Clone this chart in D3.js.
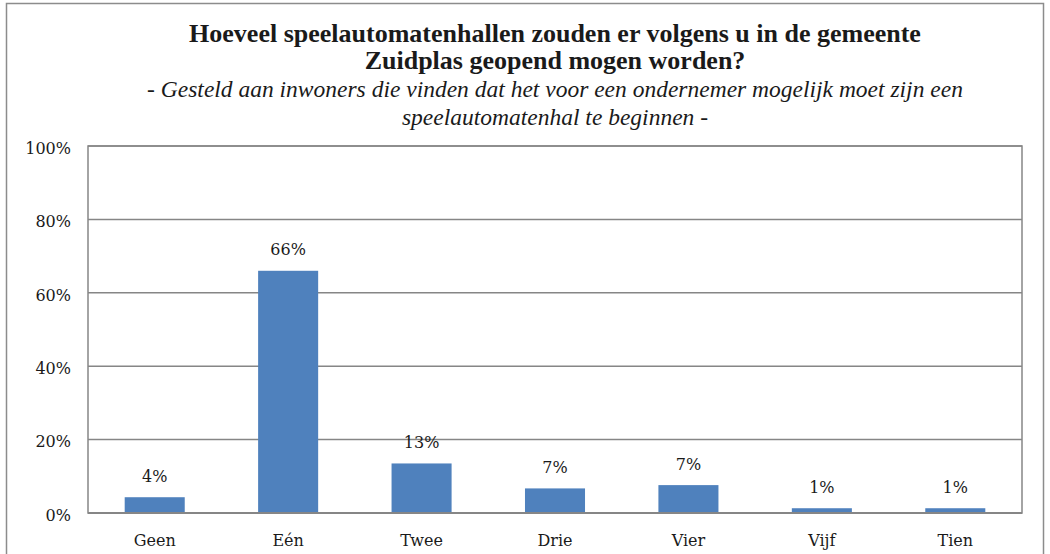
<!DOCTYPE html>
<html>
<head>
<meta charset="utf-8">
<script src="https://cdn.jsdelivr.net/npm/d3@7"></script>
<style>
  body { margin: 0; background: #fff; }
  svg text { font-family: "DejaVu Serif", "Liberation Serif", serif; fill: #1a1a1a; }
  svg text.title, svg text.subtitle { font-family: "Liberation Serif", serif; }
</style>
</head>
<body>
<svg class="chart" width="1050" height="554"></svg>
<script>
var categories = ["Geen", "Eén", "Twee", "Drie", "Vier", "Vijf", "Tien"];
var values = [4.3, 66.0, 13.5, 6.7, 7.6, 1.3, 1.3];
var value_labels = ["4%", "66%", "13%", "7%", "7%", "1%", "1%"];
var y_ticks = [0, 20, 40, 60, 80, 100];
var title_lines = ["Hoeveel speelautomatenhallen zouden er volgens u in de gemeente",
                   "Zuidplas geopend mogen worden?"];
var subtitle_lines = ["- Gesteld aan inwoners die vinden dat het voor een ondernemer mogelijk moet zijn een",
                      "speelautomatenhal te beginnen -"];

var margin = {top: 146, right: 28, bottom: 41, left: 88},
    width = 1050 - margin.left - margin.right,
    height = 554 - margin.top - margin.bottom;

var svg = d3.select(".chart");

// outer frame
svg.append("rect")
    .attr("x", 6.5).attr("y", 3.5)
    .attr("width", 1037).attr("height", 570)
    .attr("fill", "none")
    .attr("stroke", "#8c8c8c")
    .attr("stroke-width", 1.5);

var x = d3.scaleBand()
    .domain(categories)
    .range([0, width])
    .paddingInner(0.55)
    .paddingOuter(0.275);

var y = d3.scaleLinear()
    .domain([0, 100])
    .range([height, 0]);

var chart = svg.append("g")
    .attr("transform", "translate(" + margin.left + "," + margin.top + ")");

// gridlines
chart.append("g")
    .selectAll("line")
    .data(y_ticks)
  .enter().append("line")
    .attr("x1", 0).attr("x2", width)
    .attr("y1", function(d) { return y(d); })
    .attr("y2", function(d) { return y(d); })
    .attr("stroke", "#868686")
    .attr("stroke-width", 1.5);

chart.append("rect")
    .attr("width", width).attr("height", height)
    .attr("fill", "none")
    .attr("stroke", "#868686")
    .attr("stroke-width", 1.5);

var yAxis = d3.axisLeft(y)
    .tickValues(y_ticks)
    .tickSize(0)
    .tickPadding(17)
    .tickFormat(function(d) { return d + "%"; });

chart.append("g")
    .attr("class", "y axis")
    .call(yAxis)
    .call(function(g) { g.select(".domain").remove(); })
    .selectAll("text")
    .attr("dy", "0.45em")
    .style("font-size", "16px");

var bar = chart.selectAll(".bar")
    .data(categories)
  .enter().append("g")
    .attr("class", "bar");

bar.append("rect")
    .attr("x", function(d) { return x(d); })
    .attr("y", function(d, i) { return y(values[i]); })
    .attr("width", x.bandwidth())
    .attr("height", function(d, i) { return height - y(values[i]); })
    .attr("fill", "#4f81bd");

bar.append("text")
    .attr("x", function(d) { return x(d) + x.bandwidth() / 2; })
    .attr("y", function(d, i) { return y(values[i]) - 15.5; })
    .attr("text-anchor", "middle")
    .style("font-size", "16px")
    .text(function(d, i) { return value_labels[i]; });

// x axis line drawn over the bars
chart.append("line")
    .attr("x1", 0).attr("x2", width)
    .attr("y1", height).attr("y2", height)
    .attr("stroke", "#868686")
    .attr("stroke-width", 2);

var xAxis = d3.axisBottom(x).tickSize(0).tickPadding(22);

chart.append("g")
    .attr("class", "x axis")
    .attr("transform", "translate(0," + height + ")")
    .call(xAxis)
    .call(function(g) { g.select(".domain").remove(); })
    .selectAll("text")
    .style("font-size", "16px");

var cx = margin.left + width / 2;

svg.selectAll(".title")
    .data(title_lines)
  .enter().append("text")
    .attr("class", "title")
    .attr("x", cx)
    .attr("y", function(d, i) { return 41.7 + i * 27.6; })
    .attr("text-anchor", "middle")
    .style("font-size", "26px")
    .style("font-weight", "bold")
    .text(function(d) { return d; });

svg.selectAll(".subtitle")
    .data(subtitle_lines)
  .enter().append("text")
    .attr("class", "subtitle")
    .attr("x", cx)
    .attr("y", function(d, i) { return 97.3 + i * 27.7; })
    .attr("text-anchor", "middle")
    .style("font-size", "23.5px")
    .style("font-style", "italic")
    .text(function(d) { return d; });
</script>
</body>
</html>
